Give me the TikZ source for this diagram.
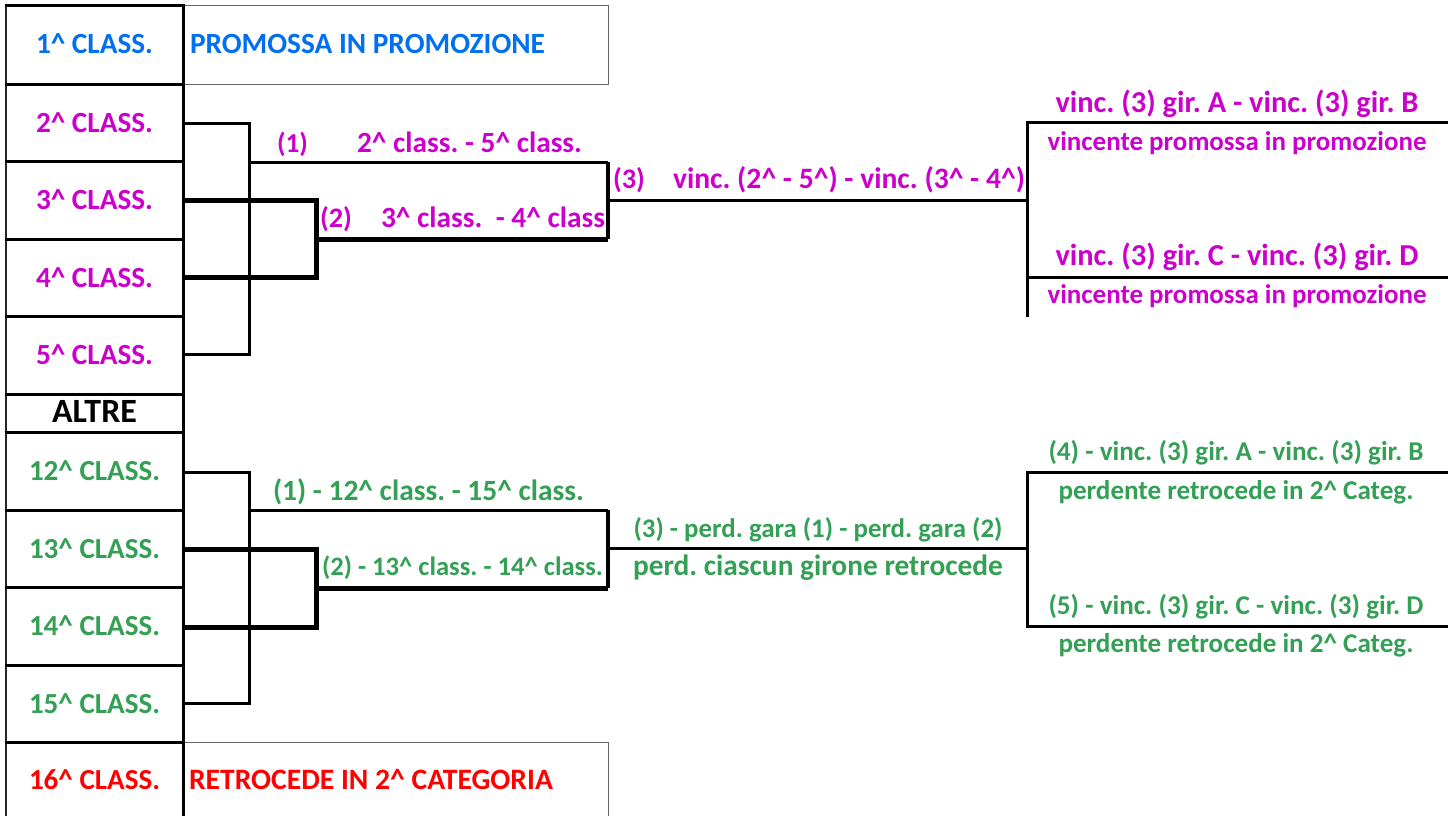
\documentclass[tikz,border=0pt]{standalone}
\usepackage{fontspec}
\setmainfont{Carlito}
\frenchspacing
\definecolor{cblue}{RGB}{0,112,240}
\definecolor{cmag}{RGB}{204,0,204}
\definecolor{cgreen}{RGB}{51,160,85}
\definecolor{cred}{RGB}{255,0,0}
\newcommand\crt{\textasciicircum}
\newlength\fitlen
\newcommand\fitto[2]{\settowidth\fitlen{\fontsize{10pt}{12pt}\selectfont\bfseries #2}%
  \pgfmathsetmacro\fitfs{10*#1/\fitlen}%
  \fontsize{\fitfs pt}{\fitfs pt}\selectfont\bfseries #2}
\begin{document}
\begin{tikzpicture}[x=1pt,y=-1pt,
  txt/.style={inner sep=0pt,outer sep=0pt,anchor=base},
  txl/.style={inner sep=0pt,outer sep=0pt,anchor=base west},
  grid/.style={line width=3pt,black},
  edge/.style={line width=2pt,black!85},
  thinbox/.style={line width=1pt,black!60},
  brk/.style={line width=3pt,black,line join=miter},
  brkthick/.style={line width=5pt,black,line join=miter}]
\useasboundingbox (0,0) rectangle (1448,816);
\fill[white] (0,0) rectangle (1448,816);

% label boxes
\draw[thinbox] (183,6) rectangle (608,84);
\draw[thinbox] (608,816) -- (608,742) -- (183,742);

% left column
\draw[edge] (6,6) -- (6,816);
\foreach \yy in {6,84,161,239,316,394,432,510,587,665,742}
  \draw[grid] (4.5,\yy) -- (184.5,\yy);
\draw[grid] (183,4.5) -- (183,816);

% class labels
\node[txt,text=cblue]  (k1)  at (94.5,54)  {\fitto{117}{1\crt{} CLASS.}};
\node[txt,text=cmag]   (k2)  at (94.5,132) {\fitto{117}{2\crt{} CLASS.}};
\node[txt,text=cmag]   (k3)  at (94.5,209) {\fitto{117}{3\crt{} CLASS.}};
\node[txt,text=cmag]   (k4)  at (94.5,287) {\fitto{117}{4\crt{} CLASS.}};
\node[txt,text=cmag]   (k5)  at (94.5,364) {\fitto{117}{5\crt{} CLASS.}};
\node[txt,text=black]  (ka)  at (94.5,422) {\fitto{85}{ALTRE}};
\node[txt,text=cgreen] (k12) at (94.5,480) {\fitto{131}{12\crt{} CLASS.}};
\node[txt,text=cgreen] (k13) at (94.5,558) {\fitto{131}{13\crt{} CLASS.}};
\node[txt,text=cgreen] (k14) at (94.5,635) {\fitto{131}{14\crt{} CLASS.}};
\node[txt,text=cgreen] (k15) at (94.5,713) {\fitto{131}{15\crt{} CLASS.}};
\node[txt,text=cred]   (k16) at (94.5,789) {\fitto{131}{16\crt{} CLASS.}};

\node[txl,text=cblue] (promo) at (190,54)  {\fitto{355}{PROMOSSA IN PROMOZIONE}};
\node[txl,text=cred]  (retro) at (189,789) {\fitto{364}{RETROCEDE IN 2\crt{} CATEGORIA}};

% top bracket coordinates
\coordinate (a2) at (183,123); \coordinate (a5) at (183,354);
\coordinate (b2) at (249,123); \coordinate (b5) at (249,354);
\coordinate (a3) at (183,200); \coordinate (a4) at (183,277);
\coordinate (c3) at (316,200); \coordinate (c4) at (316,277);
\coordinate (m1) at (249,162); \coordinate (m1r) at (608,162);
\coordinate (m2) at (316,239); \coordinate (m2r) at (608,239);
\coordinate (f1) at (608,200); \coordinate (f2) at (1027,200);
\coordinate (rt) at (1027,122); \coordinate (rb) at (1027,317);
\coordinate (rtx) at (1448,122); \coordinate (rm) at (1027,277); \coordinate (rmx) at (1448,277);

\draw[brk] (a2) -- (b2) -- (b5) -- (a5);
\draw[brkthick] (a3) -- (c3) -- (c4) -- (a4);
\draw[brk] (m1) -- (m1r);
\draw[line width=4pt] (m1r) -- (m2r);
\draw[brkthick] (m2r) -- (m2);
\draw[brk] (f1) -- (f2);
\draw[brk] (rtx) -- (rt) -- (rb);
\draw[brk] (rm) -- (rmx);

% bottom bracket coordinates
\coordinate (d12) at (183,472); \coordinate (d15) at (183,703);
\coordinate (e12) at (249,472); \coordinate (e15) at (249,703);
\coordinate (d13) at (183,549); \coordinate (d14) at (183,627);
\coordinate (h13) at (316,549); \coordinate (h14) at (316,627);
\coordinate (n1) at (249,510); \coordinate (n1r) at (608,510);
\coordinate (n2) at (316,588); \coordinate (n2r) at (608,588);
\coordinate (q1) at (608,548); \coordinate (q2) at (1027,548);
\coordinate (st) at (1027,472); \coordinate (sb) at (1027,626);
\coordinate (stx) at (1448,472); \coordinate (sbx) at (1448,626);

\draw[brk] (d12) -- (e12) -- (e15) -- (d15);
\draw[brkthick] (d13) -- (h13) -- (h14) -- (d14);
\draw[brk] (n1) -- (n1r);
\draw[line width=4pt] (n1r) -- (n2r);
\draw[brkthick] (n2r) -- (n2);
\draw[brk] (q1) -- (q2);
\draw[brk] (stx) -- (st) -- (sb) -- (sbx);

% top texts
\node[txl,text=cmag] (p1) at (277,152) {\fitto{31}{(1)}};
\node[txl,text=cmag] (t1) at (357,152) {\fitto{225}{2\crt{} class. - 5\crt{} class.}};
\node[txl,text=cmag] (p2) at (320,227) {\fitto{32}{(2)}};
\node[txl,text=cmag] (t2) at (381,227) {\fitto{224}{3\crt{} class.\ \ - 4\crt{} class}};
\node[txl,text=cmag] (p3) at (613,188) {\fitto{32}{(3)}};
\node[txl,text=cmag] (t3) at (673,188) {\fitto{352}{vinc. (2\crt{} - 5\crt{}) - vinc. (3\crt{} - 4\crt{})}};
\node[txt,text=cmag] (r1) at (1237,112) {\fitto{363}{vinc. (3) gir. A - vinc. (3) gir. B}};
\node[txt,text=cmag] (r2) at (1237,150) {\fitto{379}{vincente promossa in promozione}};
\node[txt,text=cmag] (r3) at (1237,265) {\fitto{363}{vinc. (3) gir. C - vinc. (3) gir. D}};
\node[txt,text=cmag] (r4) at (1237,303) {\fitto{379}{vincente promossa in promozione}};

% bottom texts
\node[txl,text=cgreen] (g1) at (273,500) {\fitto{311}{(1) - 12\crt{} class. - 15\crt{} class.}};
\node[txl,text=cgreen] (g2) at (322,575) {\fitto{281}{(2) - 13\crt{} class. - 14\crt{} class.}};
\node[txt,text=cgreen] (g3) at (818,537) {\fitto{369}{(3) - perd. gara (1) - perd. gara (2)}};
\node[txt,text=cgreen] (g4) at (818,575) {\fitto{370}{perd. ciascun girone retrocede}};
\node[txt,text=cgreen] (g5) at (1236,460) {\fitto{375}{(4) - vinc. (3) gir. A - vinc. (3) gir. B}};
\node[txt,text=cgreen] (g6) at (1236,499) {\fitto{355}{perdente retrocede in 2\crt{} Categ.}};
\node[txt,text=cgreen] (g7) at (1236,614) {\fitto{375}{(5) - vinc. (3) gir. C - vinc. (3) gir. D}};
\node[txt,text=cgreen] (g8) at (1236,652) {\fitto{355}{perdente retrocede in 2\crt{} Categ.}};
\end{tikzpicture}
\end{document}
